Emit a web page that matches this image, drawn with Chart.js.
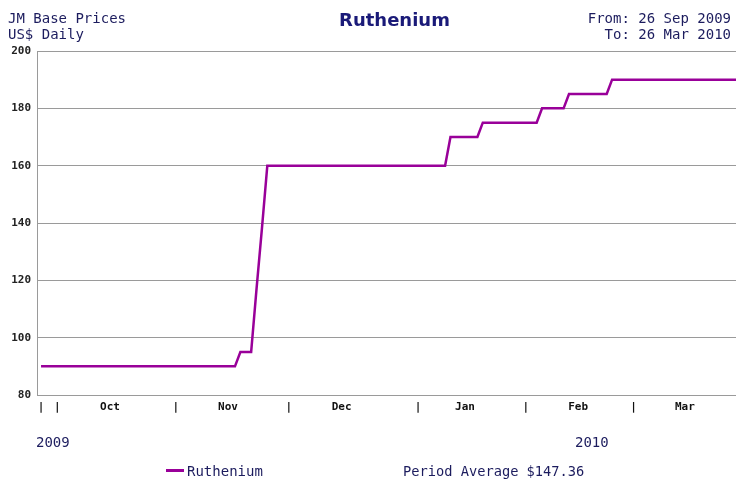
<!DOCTYPE html>
<html>
<head>
<meta charset="utf-8">
<script src="https://cdn.jsdelivr.net/npm/chart.js@4/dist/chart.umd.min.js"></script>
<style>
  html, body { margin: 0; padding: 0; background: #fff; }
  #wrap { position: relative; width: 736px; height: 479px; overflow: hidden; }
  #wrap canvas { position: absolute; left: 0; top: 0; }
  .txt { position: absolute; font-family: 'DejaVu Sans Mono', monospace; font-size: 14px; line-height: 16px; color: #1c1c5e; white-space: nowrap; }
  .title { position: absolute; left: 0; width: 789px; top: 9px; text-align: center; font-family: 'DejaVu Sans', sans-serif; font-weight: bold; font-size: 18px; line-height: 22px; color: #1a1a78; }
  .swatch { position: absolute; left: 166px; top: 469px; width: 18px; height: 3px; background: #990099; }
</style>
</head>
<body>
<div id="wrap">
  <canvas id="rutheniumChart" width="736" height="479"></canvas>
  <div class="txt" style="left:8px;top:10px">JM Base Prices</div>
  <div class="txt" style="left:8px;top:26px">US$ Daily</div>
  <div class="title">Ruthenium</div>
  <div class="txt" style="right:5px;top:10px;text-align:right">From: 26 Sep 2009</div>
  <div class="txt" style="right:5px;top:26px;text-align:right">To: 26 Mar 2010</div>
  <div class="txt" style="left:36px;top:434px">2009</div>
  <div class="txt" style="left:575px;top:434px">2010</div>
  <div class="swatch"></div>
  <div class="txt" style="left:187px;top:463px">Ruthenium</div>
  <div class="txt" style="left:403px;top:463px;font-size:13.7px">Period Average $147.36</div>
</div>
<script>
// trading-day index (0 = 28 Sep 2009) where the price changes, and the price there
const dayIndex = [0, 36, 37, 39, 40, 41, 42, 75, 76, 81, 82, 92, 93, 97, 98, 105, 106, 129];
const priceUsd = [90, 90, 95, 95, 117, 138, 160, 160, 170, 170, 175, 175, 180, 180, 185, 185, 190, 190];

// x axis: month boundary bars and month names between them
const tickPos    = [0, 3, 12.8, 25, 34.7, 46, 55.8, 70, 78.7, 90, 99.7, 110, 119.5];
const tickLabels = ['|', '|', 'Oct', '|', 'Nov', '|', 'Dec', '|', 'Jan', '|', 'Feb', '|', 'Mar'];

const yTicks = [80, 100, 120, 140, 160, 180, 200];

const points = dayIndex.map(function(d, i) { return { x: d, y: priceUsd[i] }; });

const tickFont = { family: "'DejaVu Sans Mono', monospace", size: 11, weight: 'bold' };

new Chart(document.getElementById('rutheniumChart').getContext('2d'), {
    type: 'line',
    data: {
        datasets: [{
            label: 'Ruthenium',
            data: points,
            borderColor: '#990099',
            borderWidth: 2.5,
            pointRadius: 0,
            tension: 0,
            fill: false
        }]
    },
    options: {
        responsive: false,
        animation: false,
        layout: { padding: { top: 51, right: 0, bottom: 64, left: 0 } },
        plugins: { legend: { display: false }, tooltip: { enabled: false } },
        scales: {
            x: {
                type: 'linear',
                min: -0.75,
                max: 129,
                grid: { display: false, drawTicks: false },
                border: { display: false },
                afterBuildTicks: function(s) { s.ticks = tickPos.map(function(v) { return { value: v }; }); },
                afterFit: function(s) { s.height = 20; },
                ticks: {
                    autoSkip: false,
                    maxRotation: 0,
                    padding: 6,
                    color: '#111',
                    font: tickFont,
                    callback: function(v, i) { return tickLabels[i]; }
                }
            },
            y: {
                min: 80,
                max: 200,
                grid: { color: '#9a9a9a', lineWidth: 1, drawTicks: false },
                border: { color: '#9a9a9a', width: 1 },
                afterBuildTicks: function(s) { s.ticks = yTicks.map(function(v) { return { value: v }; }); },
                afterFit: function(s) { s.width = 37; },
                ticks: {
                    padding: 6,
                    color: '#222',
                    font: tickFont
                }
            }
        }
    }
});
</script>
</body>
</html>
